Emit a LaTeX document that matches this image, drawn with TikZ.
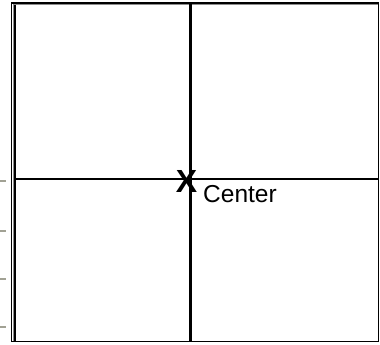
\documentclass[tikz,border=0pt]{standalone}
\usepackage{fontspec}
\setmainfont{Liberation Sans}
\usetikzlibrary{positioning}
\definecolor{tickgray}{rgb}{0.63,0.63,0.58}
\definecolor{edgegray}{rgb}{0.55,0.55,0.55}
\tikzset{
  frame/.style={black,line width=1.4pt},
  axisline/.style={black,line width=2.2pt},
  sidetick/.style={tickgray,line width=1.5pt},
}

\begin{document}
\begin{tikzpicture}[x=1pt,y=-1pt]
      \useasboundingbox (0,0) rectangle (380,345);
      % Draw the outer frame
      \coordinate (tl) at (11.5,3);
      \coordinate (br) at (378.5,341.5);
      \draw[frame] (tl) rectangle (br);
      \draw[edgegray,line width=1pt] (13,5) -- (378,5);
      \draw[edgegray,line width=1pt] (13,5) -- (13,341);
      \draw[black,line width=1.4pt] (14.8,5.5) -- (14.8,341);
      % Draw the two center lines
      \coordinate (top) at (190.5,3);
      \coordinate (bottom) at (190.5,341.5);
      \coordinate (left) at (15,179);
      \coordinate (right) at (378.5,179);
      \draw[axisline] (top) -- (bottom);
      \draw[axisline] (left) -- (right);
      % small ticks outside the frame
      \foreach \y in {181,231,279,327}
        \draw[sidetick] (0,\y) -- (6,\y);
      % mark the center
      \node[inner sep=0] (mark) at (186.5,181) {\fontsize{32}{32}\selectfont\bfseries X};
      \node[anchor=base west,inner sep=0] (center) at (203,202.5) {\fontsize{24.5}{27}\selectfont Center};
    \end{tikzpicture}
\end{document}
